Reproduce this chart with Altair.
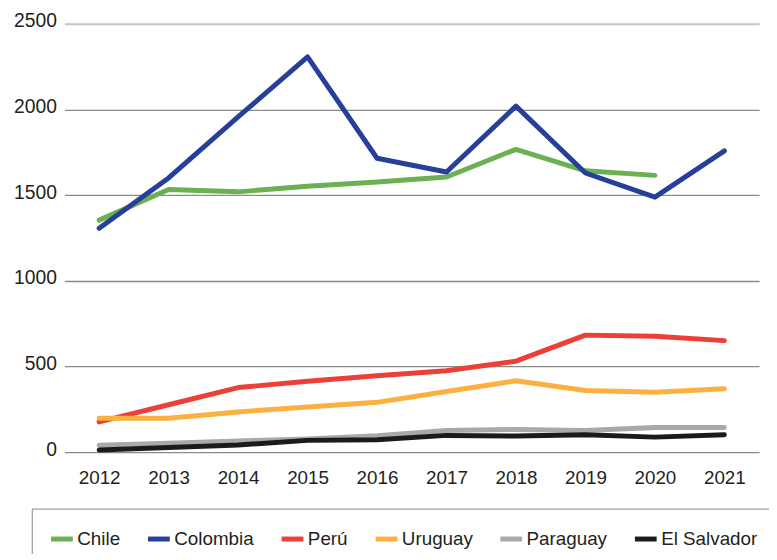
import altair as alt
import pandas as pd

years = [2012, 2013, 2014, 2015, 2016, 2017, 2018, 2019, 2020, 2021]
countries = ["Chile", "Colombia", "Perú", "Uruguay", "Paraguay", "El Salvador"]
colors = ["#6bb153", "#253f9a", "#ec3f37", "#fcb040", "#a7a9ac", "#1c1b1c"]

chile = [1354, 1533, 1519, 1552, 1577, 1606, 1767, 1642, 1615, None]
colombia = [1306, 1600, 1956, 2306, 1715, 1635, 2019, 1629, 1488, 1758]
peru = [177, 277, 377, 414, 446, 475, 531, 683, 677, 651]
uruguay = [198, 198, 235, 264, 291, 354, 417, 360, 350, 370]
paraguay = [40, 52, 65, 77, 96, 127, 133, 127, 144, 144]
el_salvador = [13, 27, 42, 69, 73, 98, 94, 102, 88, 102]

series = [chile, colombia, peru, uruguay, paraguay, el_salvador]
rows = []
for name, vals in zip(countries, series):
    for y, v in zip(years, vals):
        if v is not None:
            rows.append({"year": str(y), "country": name, "value": v})
df = pd.DataFrame(rows)

FONT = "Liberation Sans"

chart = alt.Chart(df).mark_line(strokeWidth=5, strokeCap="round", strokeJoin="round").encode(
    x=alt.X("year:O", title=None,
            scale=alt.Scale(type="point", padding=0.5),
            axis=alt.Axis(labelAngle=0, domain=False, ticks=False, grid=False,
                          labelFontSize=19, labelFont=FONT, labelColor="#231f20",
                          labelPadding=17)),
    y=alt.Y("value:Q", title=None,
            scale=alt.Scale(domain=[0, 2500], nice=False),
            axis=alt.Axis(values=[0, 500, 1000, 1500, 2000, 2500], format="d",
                          domain=False, ticks=False,
                          labelFontSize=19.5, labelFont=FONT, labelColor="#231f20",
                          labelPadding=8, labelOffset=-3,
                          gridColor={"condition": {"test": "datum.value === 2500", "value": "#c4c4c4"},
                                     "value": "#8a8a8a"},
                          gridWidth={"condition": {"test": "datum.value === 2500", "value": 2},
                                     "value": 1.3})),
    color=alt.Color("country:N",
                    scale=alt.Scale(domain=countries, range=colors),
                    legend=alt.Legend(title=None, orient="none", legendX=-33, legendY=490,
                                      direction="horizontal", columns=6,
                                      symbolType="stroke", symbolSize=484, symbolStrokeWidth=5,
                                      labelFontSize=19, labelFont=FONT, labelColor="#231f20",
                                      labelOffset=2, columnPadding=17, padding=17,
                                      strokeColor="#888888", labelLimit=300)),
    order=alt.Order("country:N")
).properties(
    width=702, height=433,
    autosize=alt.AutoSizeParams(type="none"),
    padding={"left": 57, "top": 13, "right": 10, "bottom": 100}
).configure_view(stroke=None)

chart.save("out.html", embed_options={"renderer": "svg", "actions": False})
